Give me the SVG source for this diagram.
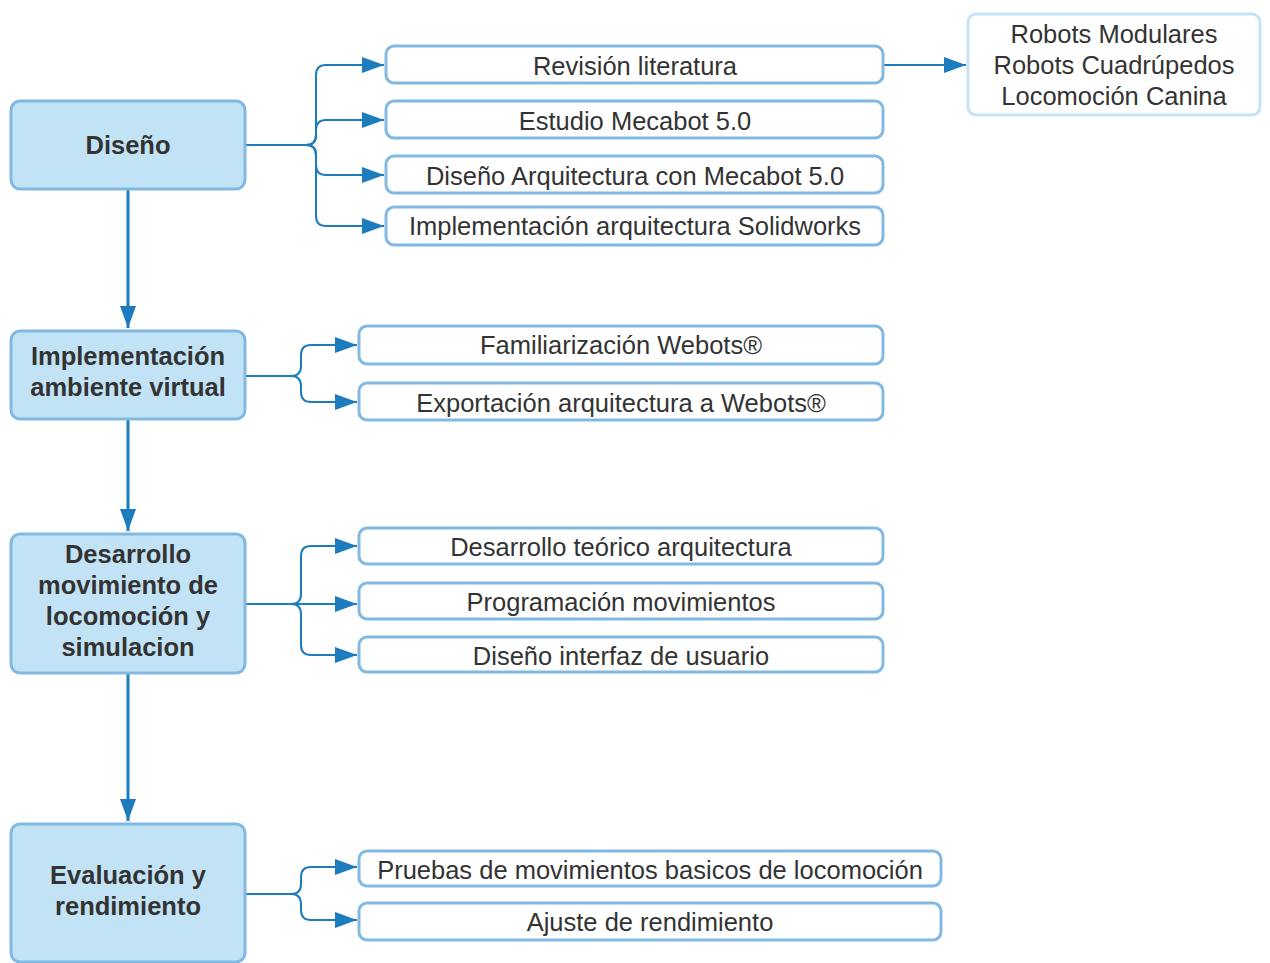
<svg xmlns="http://www.w3.org/2000/svg" width="1270" height="963" viewBox="0 0 1270 963">
  <defs>
    <style>
      .main rect { fill: #c2e3f5; stroke: #82b9e2; stroke-width: 3; }
      .main text { font-family: "Liberation Sans", Arial, sans-serif; font-weight: bold; font-size: 25.5px; fill: #333333; text-anchor: middle; }
      .sub rect { fill: #ffffff; stroke: #82b9e2; stroke-width: 3; }
      .sub text { font-family: "Liberation Sans", Arial, sans-serif; font-size: 25.5px; fill: #333333; text-anchor: middle; }
      .note rect { fill: #ffffff; stroke: #c6e3f6; stroke-width: 3; }
      .edge { fill: none; stroke: #1d7cbd; stroke-width: 2; }
      .trunk { fill: none; stroke: #1d7cbd; stroke-width: 3; }
    </style>
    <marker id="arrow" markerUnits="userSpaceOnUse" markerWidth="24" markerHeight="18" viewBox="0 0 24 18" refX="22" refY="9" orient="auto">
      <path d="M0,1 L22,9 L0,17 Z" fill="#1d7cbd"/>
    </marker>
  </defs>

  <!-- connectors -->
  <g id="connectors">
    <!-- vertical flow between stages -->
    <path class="trunk" d="M128,190 V328" marker-end="url(#arrow)"/>
    <path class="trunk" d="M128,420 V531" marker-end="url(#arrow)"/>
    <path class="trunk" d="M128,674 V821" marker-end="url(#arrow)"/>

    <!-- Diseño branches -->
    <path class="edge" d="M246,145 H306 Q316,145 316,135 V75 Q316,65 326,65 H384" marker-end="url(#arrow)"/>
    <path class="edge" d="M306,145 Q316,145 316,135 V130 Q316,120 326,120 H384" marker-end="url(#arrow)"/>
    <path class="edge" d="M306,145 Q316,145 316,155 V165 Q316,175 326,175 H384" marker-end="url(#arrow)"/>
    <path class="edge" d="M306,145 Q316,145 316,155 V216 Q316,226 326,226 H384" marker-end="url(#arrow)"/>
    <path class="edge" d="M884,65 H966" marker-end="url(#arrow)"/>

    <!-- Implementación branches -->
    <path class="edge" d="M246,376 H291 Q301,376 301,366 V355 Q301,345 311,345 H357" marker-end="url(#arrow)"/>
    <path class="edge" d="M291,376 Q301,376 301,386 V392 Q301,402 311,402 H357" marker-end="url(#arrow)"/>

    <!-- Desarrollo branches -->
    <path class="edge" d="M246,604 H291 Q301,604 301,594 V556 Q301,546 311,546 H357" marker-end="url(#arrow)"/>
    <path class="edge" d="M291,604 H357" marker-end="url(#arrow)"/>
    <path class="edge" d="M291,604 Q301,604 301,614 V645 Q301,655 311,655 H357" marker-end="url(#arrow)"/>

    <!-- Evaluación branches -->
    <path class="edge" d="M246,894 H291 Q301,894 301,884 V877 Q301,867 311,867 H357" marker-end="url(#arrow)"/>
    <path class="edge" d="M291,894 Q301,894 301,904 V910 Q301,920 311,920 H357" marker-end="url(#arrow)"/>
  </g>

  <!-- stage nodes -->
  <g id="diseno" class="main">
    <rect x="11" y="101" width="234" height="88" rx="9"/>
    <text x="128" y="154">Diseño</text>
  </g>
  <g id="implementacion" class="main">
    <rect x="11" y="331" width="234" height="88" rx="9"/>
    <text x="128" y="365">Implementación</text>
    <text x="128" y="396">ambiente virtual</text>
  </g>
  <g id="desarrollo" class="main">
    <rect x="11" y="534" width="234" height="139" rx="9"/>
    <text x="128" y="563">Desarrollo</text>
    <text x="128" y="594">movimiento de</text>
    <text x="128" y="625">locomoción y</text>
    <text x="128" y="656">simulacion</text>
  </g>
  <g id="evaluacion" class="main">
    <rect x="11" y="824" width="234" height="138" rx="9"/>
    <text x="128" y="884">Evaluación y</text>
    <text x="128" y="915">rendimiento</text>
  </g>

  <!-- task nodes -->
  <g id="revision" class="sub">
    <rect x="386" y="46" width="497" height="37" rx="8"/>
    <text x="635" y="75">Revisión literatura</text>
  </g>
  <g id="estudio" class="sub">
    <rect x="386" y="101" width="497" height="37" rx="8"/>
    <text x="635" y="130">Estudio Mecabot 5.0</text>
  </g>
  <g id="diseno-arquitectura" class="sub">
    <rect x="386" y="156" width="497" height="37" rx="8"/>
    <text x="635" y="185">Diseño Arquitectura con Mecabot 5.0</text>
  </g>
  <g id="implementacion-solidworks" class="sub">
    <rect x="386" y="207" width="497" height="38" rx="8"/>
    <text x="635" y="235">Implementación arquitectura Solidworks</text>
  </g>
  <g id="robots" class="sub note">
    <rect x="968" y="14" width="292" height="101" rx="8"/>
    <text x="1114" y="43">Robots Modulares</text>
    <text x="1114" y="74">Robots Cuadrúpedos</text>
    <text x="1114" y="105">Locomoción Canina</text>
  </g>
  <g id="familiarizacion" class="sub">
    <rect x="359" y="326" width="524" height="38" rx="8"/>
    <text x="621" y="354">Familiarización Webots®</text>
  </g>
  <g id="exportacion" class="sub">
    <rect x="359" y="383" width="524" height="37" rx="8"/>
    <text x="621" y="412">Exportación arquitectura a Webots®</text>
  </g>
  <g id="desarrollo-teorico" class="sub">
    <rect x="359" y="528" width="524" height="36" rx="8"/>
    <text x="621" y="556">Desarrollo teórico arquitectura</text>
  </g>
  <g id="programacion" class="sub">
    <rect x="359" y="583" width="524" height="36" rx="8"/>
    <text x="621" y="611">Programación movimientos</text>
  </g>
  <g id="interfaz" class="sub">
    <rect x="359" y="637" width="524" height="35" rx="8"/>
    <text x="621" y="665">Diseño interfaz de usuario</text>
  </g>
  <g id="pruebas" class="sub">
    <rect x="359" y="851" width="582" height="35" rx="8"/>
    <text x="650" y="879">Pruebas de movimientos basicos de locomoción</text>
  </g>
  <g id="ajuste" class="sub">
    <rect x="359" y="903" width="582" height="37" rx="8"/>
    <text x="650" y="931">Ajuste de rendimiento</text>
  </g>
</svg>
